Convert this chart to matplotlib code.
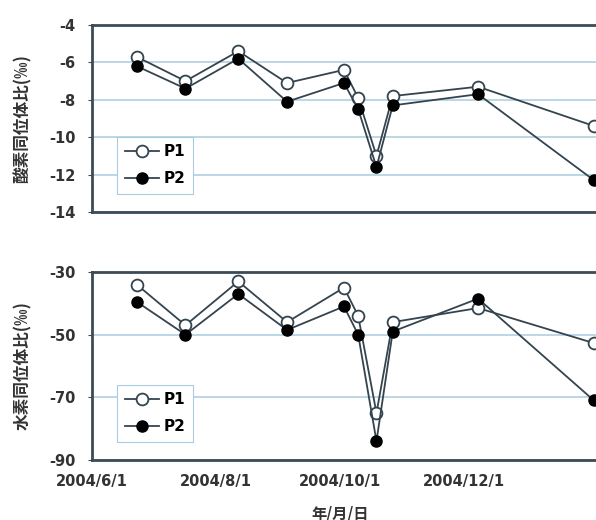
import matplotlib
matplotlib.use("Agg")
import matplotlib.pyplot as plt
import matplotlib.dates as mdates
import numpy as np
import pandas as pd

plt.rcParams['font.family'] = ['DejaVu Sans', 'Noto Sans CJK JP']

# sampling dates and isotope values
dates = pd.to_datetime(["2004-06-23", "2004-07-17", "2004-08-12", "2004-09-05",
                        "2004-10-03", "2004-10-10", "2004-10-19", "2004-10-27",
                        "2004-12-08", "2005-02-03"])
o18_p1 = [-5.7, -7.0, -5.4, -7.1, -6.4, -7.9, -11.0, -7.8, -7.3, -9.4]
o18_p2 = [-6.2, -7.4, -5.8, -8.1, -7.1, -8.5, -11.6, -8.3, -7.7, -12.3]
d_p1 = [-34, -47, -33, -46, -35, -44, -75, -46, -41.5, -52.7]
d_p2 = [-39.5, -50, -37, -48.5, -41, -50, -84, -49, -38.5, -71]

xtick_dates = pd.to_datetime(["2004-06-01", "2004-08-01", "2004-10-01", "2004-12-01"])
xtick_labels = ["2004/6/1", "2004/8/1", "2004/10/1", "2004/12/1"]
top_yticks = [-4, -6, -8, -10, -12, -14]
bot_yticks = [-30, -50, -70, -90]

line_c = '#34444f'
grid_c = '#a9cbe0'
frame_c = '#3c4b56'

fig = plt.figure(figsize=(5.96, 5.2), dpi=100)
ax1 = fig.add_axes([92/596, 1-212/520, 508/596, 187/520])
ax2 = fig.add_axes([92/596, 1-460/520, 508/596, 188/520])

def draw(ax, p1, p2, yticks, ylabel):
    ax.plot(dates, p1, '-o', color=line_c, lw=1.3, ms=8.5, mfc='white',
            mec=line_c, mew=1.3, label='P1', zorder=3)
    ax.plot(dates, p2, '-o', color=line_c, lw=1.3, ms=8, mfc='black',
            mec='black', label='P2', zorder=4)
    ax.set_ylim(min(yticks), max(yticks))
    ax.set_yticks(yticks)
    ax.set_yticklabels([str(t) for t in yticks], fontweight='bold', fontsize=10.5, color='#333333')
    ax.set_xlim(pd.Timestamp("2004-06-01"), pd.Timestamp("2005-02-06"))
    ax.set_xticks(xtick_dates)
    ax.grid(axis='y', color=grid_c, lw=1.1)
    ax.set_axisbelow(True)
    for s in ax.spines.values():
        s.set_color(frame_c)
        s.set_linewidth(2)
    ax.tick_params(axis='y', length=3, color=frame_c, pad=9)
    ax.tick_params(axis='x', length=0, pad=10)
    ax.set_ylabel(ylabel, family=['Noto Sans CJK JP', 'DejaVu Sans'], fontsize=12,
                  fontweight='bold', color='#333333')
    ax.yaxis.set_label_coords(-0.118, 0.5)
    leg = ax.legend(loc='lower left', bbox_to_anchor=(0.035, 0.055), fancybox=False,
                    framealpha=1, edgecolor=grid_c, handlelength=2.2,
                    handletextpad=0.3, borderpad=0.5, labelspacing=0.8,
                    prop={'weight': 'bold', 'size': 11})
    leg.get_frame().set_linewidth(0.8)

draw(ax1, o18_p1, o18_p2, top_yticks, '酸素同位体比(‰)')
draw(ax2, d_p1, d_p2, bot_yticks, '水素同位体比(‰)')

ax1.set_xticklabels([])
ax2.set_xticklabels(xtick_labels, fontweight='bold', fontsize=10.5, color='#333333')
ax2.set_xlabel('年/月/日', family=['Noto Sans CJK JP', 'DejaVu Sans'], fontsize=11,
               fontweight='bold', color='#333333')
ax2.xaxis.set_label_coords(248/508, -0.24)

fig.savefig('out.png', dpi=100)
